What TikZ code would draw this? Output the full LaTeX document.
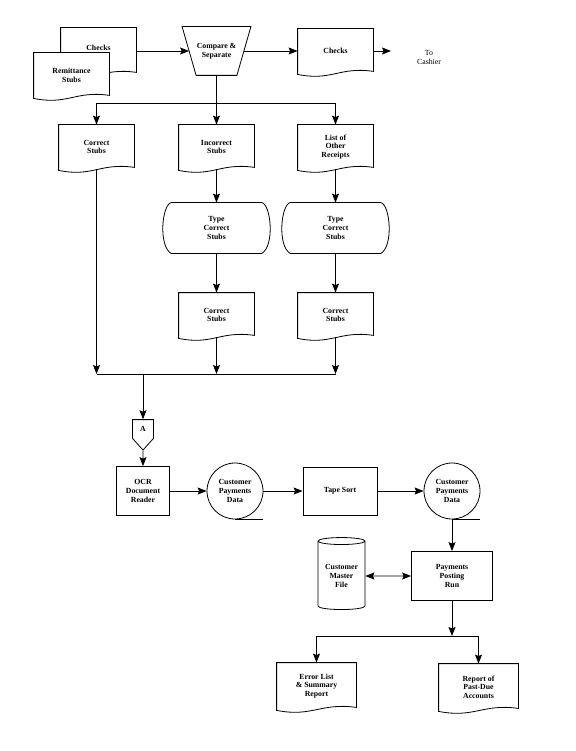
\documentclass[tikz,border=0pt]{standalone}
\usepackage{fontspec}
\setmainfont{Liberation Serif}
\usetikzlibrary{arrows.meta,calc,positioning,shapes.geometric,shapes.symbols}

\newcommand\docoutline[1]{%
  \draw (#1.north west) -- (#1.north east) -- ([yshift=2pt]#1.south east)
    .. controls ($(#1.south west)!.55!(#1.south east)+(0pt,7pt)$)
    and ($(#1.south west)!.45!(#1.south east)+(0pt,-8pt)$) .. ([yshift=-1pt]#1.south west) -- cycle;}
\newcommand\keyoutline[1]{%
  \draw ([xshift=10pt]#1.north west) -- ([xshift=-10pt]#1.north east)
    .. controls ([xshift=-1pt,yshift=-2pt]#1.north east) and ([xshift=3pt,yshift=8pt]#1.south east) .. ([xshift=-10pt]#1.south east)
    -- ([xshift=10pt]#1.south west)
    .. controls ([xshift=-3pt,yshift=8pt]#1.south west) and ([xshift=1pt,yshift=-2pt]#1.north west) .. cycle;}
\newcommand\manoutline[1]{%
  \draw (#1.north west) -- (#1.north east) -- ([xshift=-14pt]#1.south east)
    -- ([xshift=14pt]#1.south west) -- cycle;
  \coordinate (#1in) at ($(#1.north west)!.5!([xshift=14pt]#1.south west)$);
  \coordinate (#1out) at ($(#1.north east)!.5!([xshift=-14pt]#1.south east)$);}

\begin{document}
\begin{tikzpicture}[
    x=1pt, y=-1pt,
    line width=0.8pt,
    font=\fontsize{7.8}{8.7}\selectfont\bfseries,
    doc/.style={rectangle, minimum width=75pt, minimum height=44pt, inner sep=1pt, align=center},
    keyop/.style={rectangle, minimum width=110pt, minimum height=50pt, inner sep=1pt, align=center},
    manual/.style={rectangle, minimum width=68pt, minimum height=48pt, inner sep=1pt, align=center},
    proc/.style={draw, rectangle, inner sep=1pt, align=center},
    tapefile/.style={draw, circle, minimum size=56pt, inner sep=0pt, align=center},
    diskfile/.style={draw, cylinder, shape border rotate=90, aspect=0.2,
      minimum width=47pt, minimum height=72pt, inner sep=1pt, align=center},
    offpage/.style={draw, signal, signal to=south, signal pointer angle=84,
      minimum width=21pt, minimum height=23pt, inner sep=1pt},
    arrow/.style={-{Stealth[length=9pt,width=7pt,inset=1.5pt]}},
    dblarrow/.style={{Stealth[length=9pt,width=7pt,inset=1.5pt]}-{Stealth[length=9pt,width=7pt,inset=1.5pt]}}
  ]
    \useasboundingbox (0,0) rectangle (575,751);

    \node[doc, minimum height=46pt] (checksA) at (98.5,51) {\raisebox{7pt}{Checks}};
    \docoutline{checksA}
    \node[doc, fill=white] (remit) at (71.5,75) {Remittance\\Stubs};
    \docoutline{remit}
    \node[manual] (sep) at (216.5,51) {Compare \&\\Separate};
    \manoutline{sep}
    \node[doc] (checksB) at (335.5,51) {Checks};
    \docoutline{checksB}
    \node[align=center, font=\fontsize{7.8}{8.7}\selectfont] (cashier) at (429,57.5) {To\\Cashier};
    \coordinate (tocash) at (391,51);

    \node[doc] (corr1) at (96.5,147) {Correct\\Stubs};
    \node[doc] (incorr) at (216.5,147) {Incorrect\\Stubs};
    \node[doc] (listr) at (335.5,147) {List of\\Other\\Receipts};
    \docoutline{corr1}
    \docoutline{incorr}
    \docoutline{listr}
    \coordinate (split) at (216.5,103);

    \node[keyop] (type1) at (216.5,228) {Type\\Correct\\Stubs};
    \node[keyop] (type2) at (335.5,228) {Type\\Correct\\Stubs};
    \keyoutline{type1}
    \keyoutline{type2}

    \node[doc] (corr2) at (216.5,315) {Correct\\Stubs};
    \node[doc] (corr3) at (335.5,315) {Correct\\Stubs};
    \docoutline{corr2}
    \docoutline{corr3}
    \coordinate (merge) at (216.5,374);

    \node[offpage] (conA) at (143,429) {A};

    \node[proc, minimum width=53pt, minimum height=49pt] (ocr) at (143,491) {OCR\\Document\\Reader};
    \node[tapefile] (cpd1) at (235,491) {Customer\\Payments\\Data};
    \node[proc, minimum width=74pt, minimum height=48pt] (tsort) at (340,491) {Tape Sort};
    \node[tapefile] (cpd2) at (452,491) {Customer\\Payments\\Data};
    \draw (cpd1.south) -- (cpd1.south -| cpd1.east);
    \draw (cpd2.south) -- (cpd2.south -| cpd2.east);

    \node[proc, minimum width=81pt, minimum height=49pt] (post) at (452,576) {Payments\\Posting\\Run};
    \node[diskfile] (cmf) at (341.5,576) {Customer\\Master\\File};
    \coordinate (split2) at (452,636);

    \node[doc, minimum width=79pt, minimum height=46pt] (err) at (316.5,686) {Error List\\\& Summary\\Report};
    \node[doc, minimum width=79pt, minimum height=46pt] (rep) at (478.5,687) {Report of\\Past-Due\\Accounts};
    \docoutline{err}
    \docoutline{rep}

    \draw[arrow] (checksA) -- (sepin);
    \draw[arrow] (sepout) -- (checksB);
    \draw[arrow] (checksB.east) -- (tocash);
    \draw[arrow] (sep) -- (incorr);
    \draw (split -| corr1) -- (split -| listr);
    \draw[arrow] (split -| corr1) -- (corr1);
    \draw[arrow] (split -| listr) -- (listr);
    \draw[arrow] (incorr) -- (type1);
    \draw[arrow] (listr) -- (type2);
    \draw[arrow] (type1) -- (corr2);
    \draw[arrow] (type2) -- (corr3);
    \draw[arrow] (corr1) -- (corr1 |- merge);
    \draw[arrow] (corr2) -- (corr2 |- merge);
    \draw[arrow] (corr3) -- (corr3 |- merge);
    \draw (corr1 |- merge) -- (corr3 |- merge);
    \draw[arrow] (conA |- merge) -- (conA);
    \draw[arrow] (conA) -- (ocr);
    \draw[arrow] (ocr) -- (cpd1);
    \draw[arrow] (cpd1) -- (tsort);
    \draw[arrow] (tsort) -- (cpd2);
    \draw[arrow] (cpd2) -- (post);
    \draw[dblarrow] (cmf) -- (post);
    \draw[arrow] (post) -- (split2);
    \draw (split2 -| err) -- (split2 -| rep);
    \draw[arrow] (split2 -| err) -- (err);
    \draw[arrow] (split2 -| rep) -- (rep);
  \end{tikzpicture}
\end{document}
